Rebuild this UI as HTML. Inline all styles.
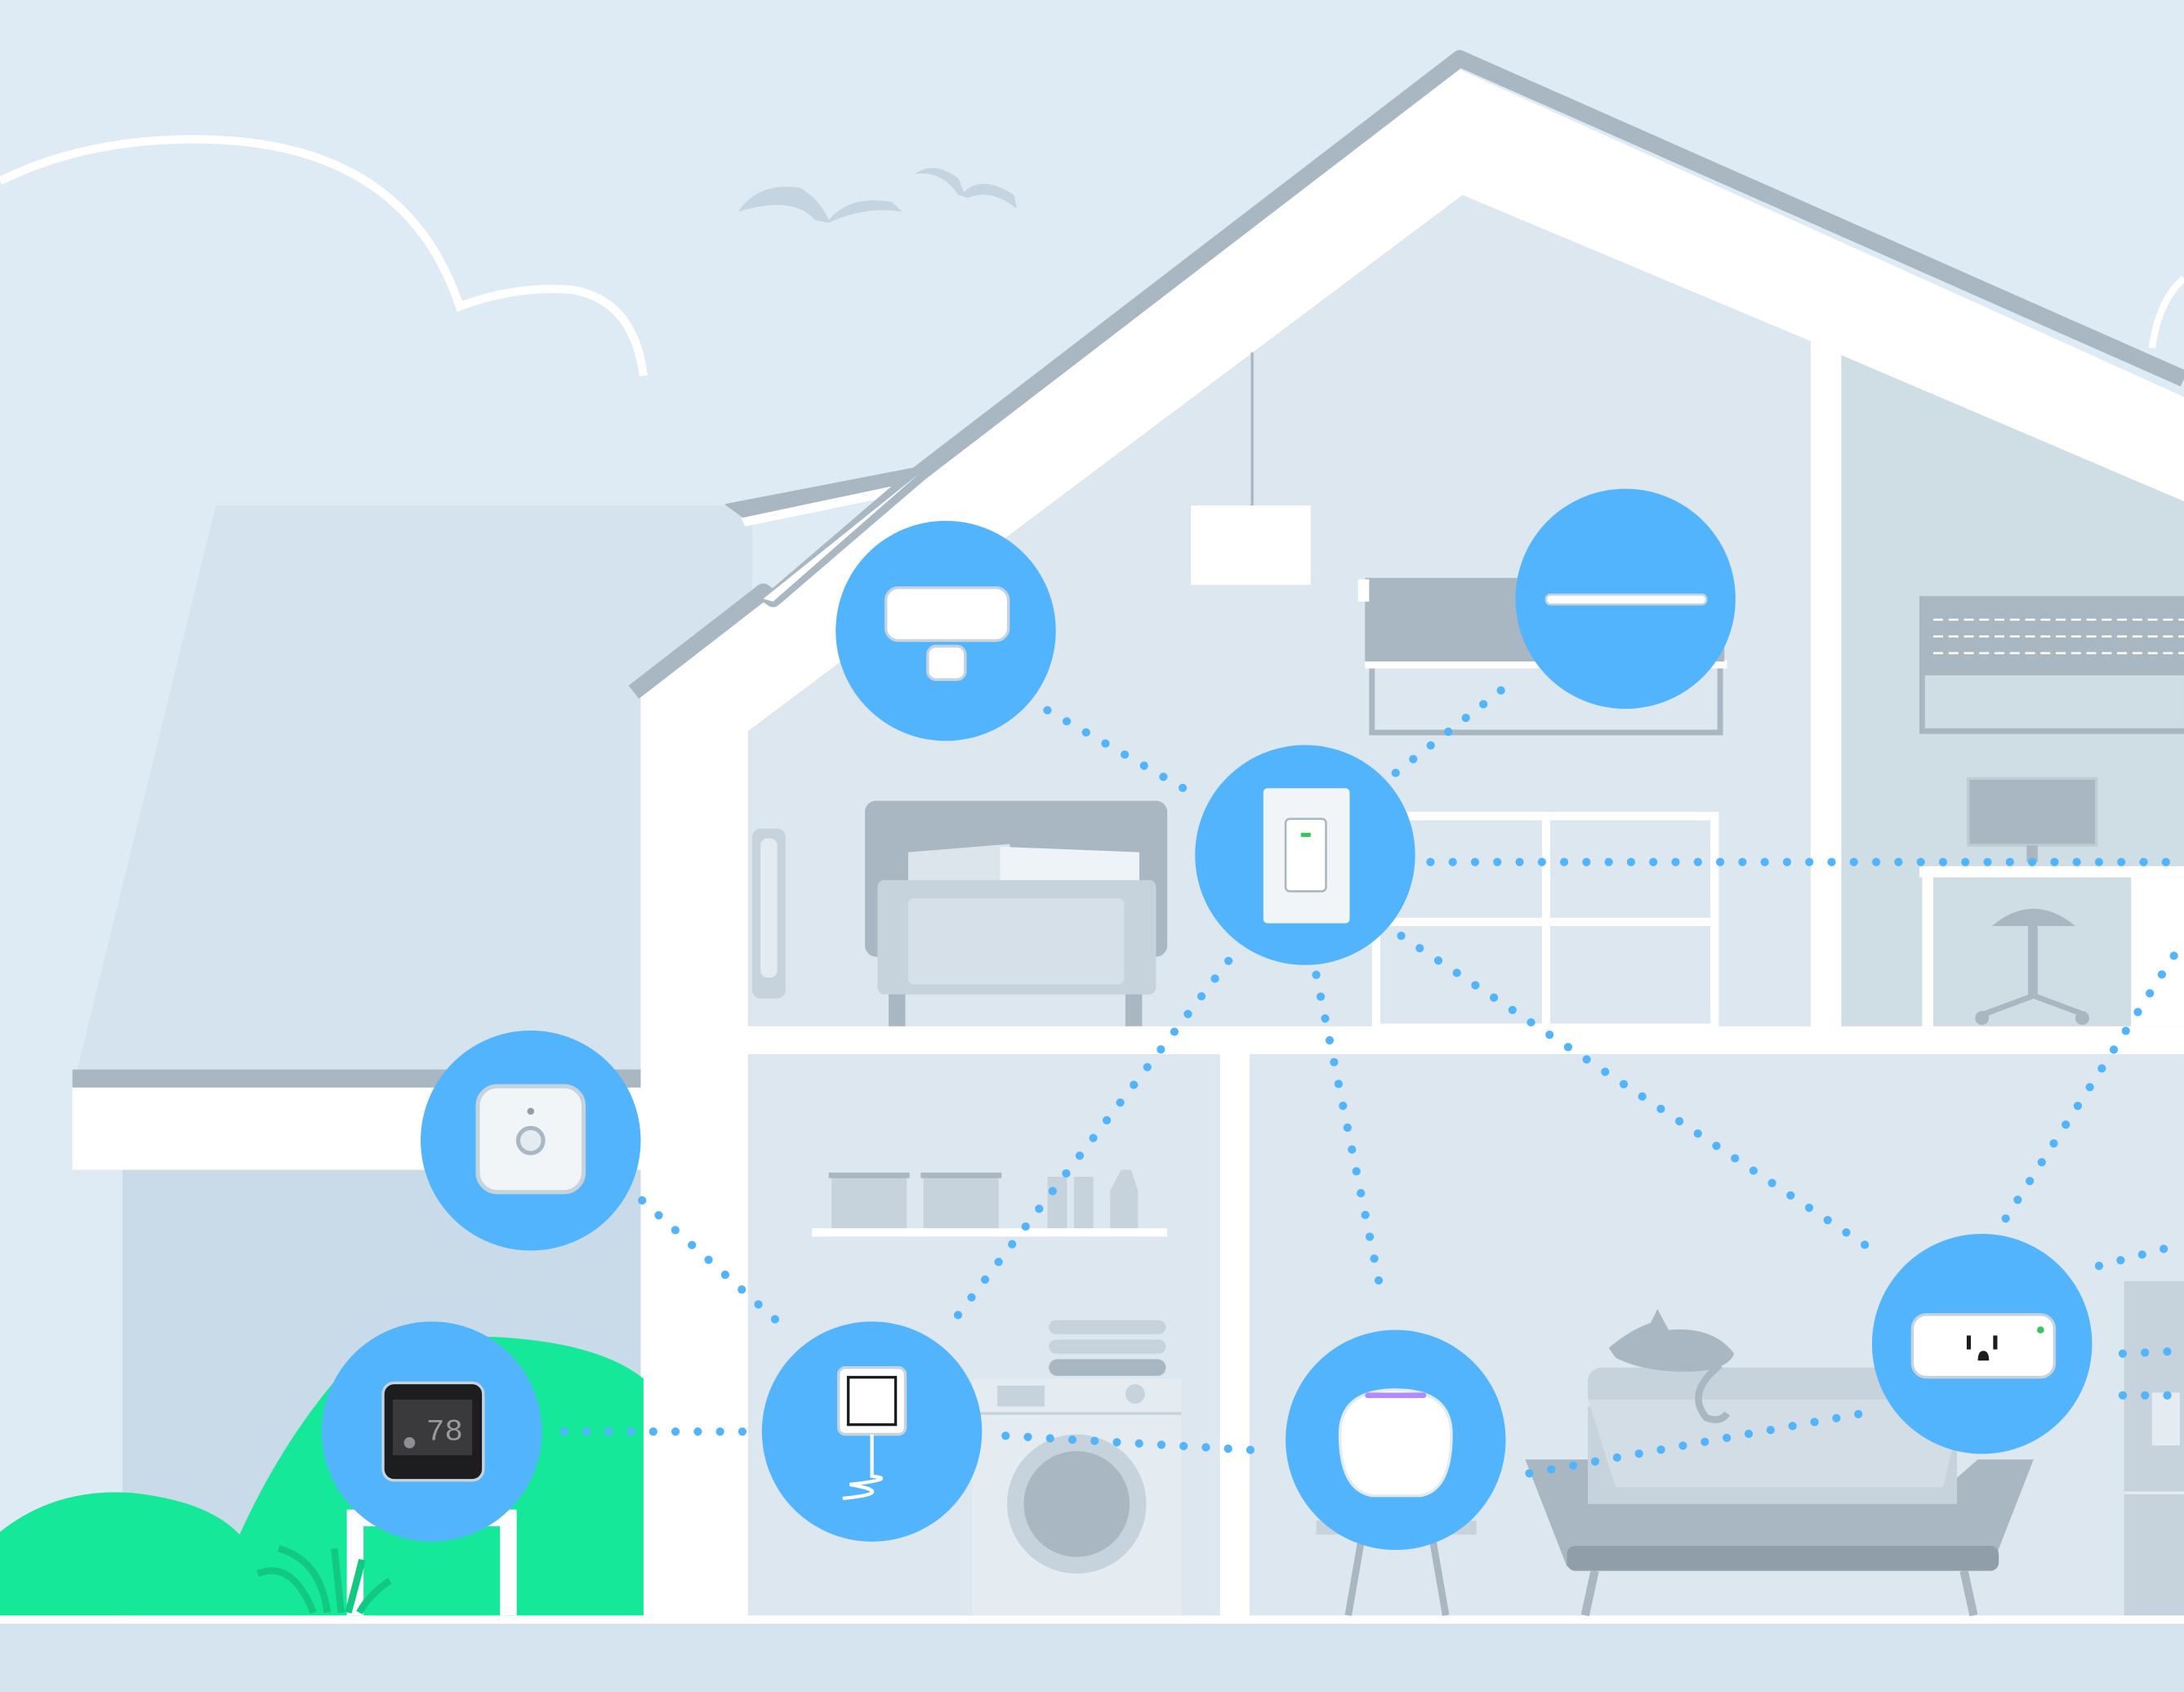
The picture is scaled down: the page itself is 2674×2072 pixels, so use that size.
<!DOCTYPE html>
<html><head><meta charset="utf-8"><style>
html,body{margin:0;padding:0;background:#deebf5;}
svg{display:block;}
</style></head><body>
<svg width="2674" height="2072" viewBox="0 0 1568 1215" xmlns="http://www.w3.org/2000/svg">
<rect width="1568" height="1215" fill="#deebf5"/>
<!-- ground -->
<rect x="0" y="1160" width="1568" height="55" fill="#d6e4f0"/>
<rect x="0" y="1160" width="1568" height="6" fill="#fff"/>
<!-- clouds -->
<path d="M0,130 Q60,100 140,100 Q290,100 330,220 Q370,205 410,208 Q455,215 462,270" fill="none" stroke="#fff" stroke-width="6"/>
<path d="M1545,250 Q1550,215 1568,200" fill="none" stroke="#fff" stroke-width="5"/>
<!-- birds -->
<path d="M530,152 Q545,130 575,135 Q590,145 595,158 Q610,140 640,145 L648,152 Q620,148 595,160 L585,158 Q570,140 530,152Z" fill="#c4d4e1"/>
<path d="M657,125 Q670,115 688,128 L692,138 Q705,125 728,140 L730,150 Q712,135 695,142 L688,140 Q676,122 657,125Z" fill="#c4d4e1"/>
<!-- back left house -->
<polygon points="55,770 155,363 540,363 540,770" fill="#d5e3ee"/>
<rect x="88" y="838" width="380" height="322" fill="#c9dbe8"/>
<rect x="52" y="768" width="410" height="13" fill="#a9b7c2"/>
<rect x="52" y="781" width="410" height="59" fill="#fff"/>
<!-- small roof piece -->
<polygon points="520,362 660,335 665,345 535,373" fill="#a9b7c2"/>
<polygon points="532,372 660,345 662,352 535,378" fill="#fff"/>
<!-- main house -->
<polygon points="460,500 1048,50 1568,285 1568,1160 460,1160" fill="#fff"/>
<polygon points="537,525 1050,140 1300,245 1300,737 537,737" fill="#dce7ef"/>
<polygon points="1322,255 1568,360 1568,737 1322,737" fill="#cfdde4"/>
<rect x="537" y="757" width="339" height="403" fill="#dce7ef"/>
<rect x="897" y="757" width="671" height="403" fill="#dce7ef"/>
<polyline points="455,497 548,425 555,430 660,340 1048,42 1568,272" fill="none" stroke="#a9b7c2" stroke-width="12" stroke-linejoin="round"/>
<polygon points="548,430 660,340 555,432" fill="#fff"/>
<!-- green bushes -->
<path d="M0,1100 Q40,1068 95,1072 Q150,1078 172,1102 Q200,1040 240,992 Q285,958 355,960 Q430,964 462,990 L462,1160 L0,1160Z" fill="#16e89a"/>
<path d="M255,1160 L255,1090 L365,1090 L365,1160" fill="none" stroke="#fff" stroke-width="12"/>
<rect x="270" y="1100" width="82" height="60" fill="#16e89a"/>
<path d="M185,1130 Q210,1120 225,1158 M200,1112 Q230,1120 235,1158 M240,1112 L245,1158 M260,1120 Q255,1140 250,1158 M280,1135 Q265,1145 258,1158" stroke="#12c983" stroke-width="5" fill="none"/>
<!-- pendant lamp -->
<line x1="899" y1="253" x2="899" y2="365" stroke="#a9b7c2" stroke-width="2"/>
<rect x="855" y="363" width="86" height="57" fill="#fff"/>
<!-- window with blind -->
<rect x="985" y="478" width="250" height="48" fill="none" stroke="#a9b7c2" stroke-width="4"/>
<rect x="980" y="474" width="260" height="6" fill="#fff"/>
<rect x="980" y="415" width="258" height="60" fill="#a9b7c2"/>
<rect x="975" y="416" width="8" height="16" fill="#fff"/>
<!-- right window -->
<rect x="1380" y="430" width="190" height="95" fill="none" stroke="#a9b7c2" stroke-width="4"/>
<rect x="1378" y="430" width="190" height="55" fill="#a9b7c2"/>
<g stroke="#fff" stroke-width="1.5" stroke-dasharray="7 4"><line x1="1388" y1="445" x2="1568" y2="445"/><line x1="1388" y1="457" x2="1568" y2="457"/><line x1="1388" y1="469" x2="1568" y2="469"/></g>
<!-- monitor & desk -->
<rect x="1413" y="559" width="92" height="48" fill="#a9b7c2" stroke="#c0ccd5" stroke-width="2"/>
<rect x="1455" y="607" width="8" height="12" fill="#a9b7c2"/>
<rect x="1378" y="622" width="190" height="8" fill="#fff"/>
<rect x="1380" y="630" width="8" height="107" fill="#fff"/>
<rect x="1530" y="630" width="38" height="107" fill="#fff"/>
<path d="M1430,665 Q1460,640 1490,665Z" fill="#a9b7c2"/>
<rect x="1456" y="665" width="7" height="50" fill="#a9b7c2"/>
<path d="M1425,728 L1460,715 L1495,728" stroke="#a9b7c2" stroke-width="4" fill="none"/>
<circle cx="1423" cy="731" r="5" fill="#a9b7c2"/><circle cx="1495" cy="731" r="5" fill="#a9b7c2"/>
<!-- shelves -->
<g fill="none" stroke="#fff" stroke-width="6"><rect x="988" y="586" width="243" height="152"/><line x1="1110" y1="586" x2="1110" y2="738"/><line x1="988" y1="662" x2="1231" y2="662"/></g>
<!-- door handle -->
<rect x="540" y="595" width="24" height="122" rx="6" fill="#c6d3dc"/>
<rect x="546" y="602" width="12" height="100" rx="5" fill="#e4ecf2"/>
<!-- bed -->
<rect x="621" y="575" width="217" height="112" rx="8" fill="#a9b7c2"/>
<polygon points="652,612 725,606 728,634 652,636" fill="#dce5ec"/>
<polygon points="718,608 818,612 818,634 718,634" fill="#eef3f7"/>
<rect x="630" y="632" width="200" height="82" rx="5" fill="#c6d3dc"/>
<rect x="652" y="645" width="155" height="62" rx="4" fill="#d6e0e8"/>
<rect x="638" y="714" width="12" height="23" fill="#a9b7c2"/><rect x="808" y="714" width="12" height="23" fill="#a9b7c2"/>
<!-- floor divider -->
<rect x="537" y="737" width="1031" height="20" fill="#fff"/>
<rect x="876" y="757" width="21" height="403" fill="#fff"/>
<!-- laundry shelf -->
<rect x="583" y="882" width="255" height="6" fill="#fff"/>
<rect x="597" y="845" width="54" height="37" fill="#c6d3dc"/><rect x="595" y="842" width="58" height="4" fill="#a9b7c2"/>
<rect x="663" y="845" width="54" height="37" fill="#c6d3dc"/><rect x="661" y="842" width="58" height="4" fill="#a9b7c2"/>
<rect x="752" y="845" width="14" height="37" fill="#c6d3dc"/><rect x="771" y="845" width="14" height="37" fill="#c6d3dc"/>
<path d="M797,882 L797,855 L805,840 L812,840 L817,855 L817,882Z" fill="#c6d3dc"/>
<!-- washer -->
<rect x="753" y="948" width="84" height="10" rx="5" fill="#c6d3dc"/>
<rect x="753" y="962" width="84" height="10" rx="5" fill="#c6d3dc"/>
<rect x="753" y="976" width="84" height="12" rx="6" fill="#a9b7c2"/>
<rect x="698" y="990" width="150" height="170" fill="#e4ecf2"/>
<line x1="698" y1="1015" x2="848" y2="1015" stroke="#c6d3dc" stroke-width="2"/>
<rect x="716" y="995" width="34" height="15" fill="#c6d3dc"/>
<circle cx="815" cy="1001" r="7" fill="#c6d3dc"/>
<circle cx="773" cy="1080" r="50" fill="#c6d3dc"/>
<circle cx="773" cy="1080" r="38" fill="#a9b7c2"/>
<!-- side table under speaker -->
<rect x="945" y="1092" width="115" height="10" fill="#c6d3dc"/>
<line x1="978" y1="1102" x2="968" y2="1160" stroke="#a9b7c2" stroke-width="5"/>
<line x1="1028" y1="1102" x2="1038" y2="1160" stroke="#a9b7c2" stroke-width="5"/>
<!-- sofa -->
<rect x="1140" y="982" width="230" height="30" rx="10" fill="#c6d3dc"/>
<path d="M1095,1048 L1140,1048 L1165,1070 L1395,1070 L1420,1048 L1460,1048 L1430,1125 L1125,1125Z" fill="#a9b7c2"/>
<rect x="1140" y="1010" width="265" height="70" fill="#c6d3dc"/>
<path d="M1140,1005 L1160,1068 L1395,1068 L1410,1005Z" fill="#d2dde5"/>
<rect x="1125" y="1110" width="310" height="18" rx="6" fill="#8f9ea9"/>
<line x1="1145" y1="1128" x2="1138" y2="1160" stroke="#a9b7c2" stroke-width="6"/>
<line x1="1410" y1="1128" x2="1417" y2="1160" stroke="#a9b7c2" stroke-width="6"/>
<!-- cat -->
<path d="M1155,968 Q1170,955 1185,950 L1190,940 L1198,955 Q1230,952 1245,972 Q1240,985 1210,985 Q1180,985 1160,975Z" fill="#a9b7c2"/>
<path d="M1235,980 Q1210,1000 1225,1018 Q1235,1022 1240,1015" stroke="#a9b7c2" stroke-width="5" fill="none"/>
<!-- fridge -->
<rect x="1525" y="920" width="43" height="240" fill="#c6d3dc"/>
<line x1="1525" y1="1072" x2="1568" y2="1072" stroke="#e4ecf2" stroke-width="2"/>
<rect x="1545" y="1000" width="20" height="38" fill="#e4ecf2"/>
<!-- dotted connections -->
<g stroke="#52b4fd" stroke-width="6" stroke-linecap="round" stroke-dasharray="0 16" fill="none">
<line x1="752" y1="510" x2="860" y2="572"/>
<line x1="1002" y1="555" x2="1085" y2="490"/>
<line x1="1027" y1="619" x2="1568" y2="619"/>
<line x1="882" y1="690" x2="685" y2="948"/>
<line x1="945" y1="700" x2="993" y2="935"/>
<line x1="1006" y1="672" x2="1345" y2="898"/>
<line x1="461" y1="862" x2="565" y2="955"/>
<line x1="405" y1="1028" x2="545" y2="1028"/>
<line x1="722" y1="1031" x2="912" y2="1042"/>
<line x1="1098" y1="1058" x2="1348" y2="1013"/>
<line x1="1440" y1="875" x2="1568" y2="675"/>
<line x1="1507" y1="909" x2="1568" y2="893"/>
<line x1="1524" y1="972" x2="1568" y2="970"/>
<line x1="1524" y1="1002" x2="1568" y2="1002"/>
</g>
<!-- device circles -->
<g fill="#52b4fd">
<circle cx="679" cy="453" r="79"/>
<circle cx="1167" cy="430" r="79"/>
<circle cx="937" cy="614" r="79"/>
<circle cx="381" cy="819" r="79"/>
<circle cx="310" cy="1028" r="79"/>
<circle cx="626" cy="1028" r="79"/>
<circle cx="1002" cy="1034" r="79"/>
<circle cx="1423" cy="965" r="79"/>
</g>
<!-- devices -->
<rect x="636" y="422" width="88" height="38" rx="9" fill="#fff" stroke="#c6d3dc" stroke-width="2"/>
<rect x="666" y="464" width="27" height="24" rx="6" fill="#fff" stroke="#c6d3dc" stroke-width="2"/>
<rect x="1110" y="427" width="115" height="7" rx="3" fill="#fff" stroke="#c6d3dc" stroke-width="1.5"/>
<rect x="907" y="566" width="62" height="97" rx="3" fill="#f2f5f8"/>
<rect x="923" y="588" width="29" height="52" rx="3" fill="#fff" stroke="#a9b7c2" stroke-width="1.5"/>
<rect x="934" y="598" width="7" height="3" fill="#34c759"/>
<rect x="343" y="780" width="76" height="76" rx="14" fill="#f2f5f8" stroke="#c6d3dc" stroke-width="3"/>
<circle cx="381" cy="819" r="9" fill="#e4ecf2" stroke="#a9b7c2" stroke-width="3"/>
<circle cx="381" cy="798" r="2.5" fill="#8f9ea9"/>
<rect x="275" y="993" width="72" height="70" rx="8" fill="#1d1d1f" stroke="#c6d3dc" stroke-width="2"/>
<rect x="282" y="1005" width="57" height="40" fill="#3a3a3c"/>
<text x="306" y="1034" font-family="Liberation Mono, monospace" font-size="22" fill="#9a9a9e">78</text>
<circle cx="294" cy="1036" r="4" fill="#8e8e93"/>
<rect x="602" y="982" width="48" height="48" rx="5" fill="#fff" stroke="#c6d3dc" stroke-width="2"/>
<rect x="609" y="989" width="34" height="34" fill="#fff" stroke="#1d1d1f" stroke-width="2"/>
<path d="M626,1030 L626,1060 Q645,1062 610,1066 Q645,1072 605,1076" stroke="#fff" stroke-width="2.5" fill="none"/>
<path d="M962,1030 Q962,998 1002,998 Q1042,998 1042,1030 Q1042,1070 1020,1074 L985,1074 Q962,1070 962,1030Z" fill="#fff" stroke="#e4ecf2" stroke-width="2"/>
<rect x="980" y="1000" width="44" height="4" rx="2" fill="#b28cff"/>
<rect x="1373" y="944" width="102" height="45" rx="10" fill="#fff" stroke="#c6d3dc" stroke-width="2"/>
<rect x="1412" y="959" width="3" height="10" fill="#1d1d1f"/><rect x="1431" y="959" width="3" height="10" fill="#1d1d1f"/>
<path d="M1420,977 Q1420,970 1424,970 Q1428,970 1428,977Z" fill="#1d1d1f"/>
<circle cx="1465" cy="955" r="2.5" fill="#34c759"/>
</svg>
</body></html>
